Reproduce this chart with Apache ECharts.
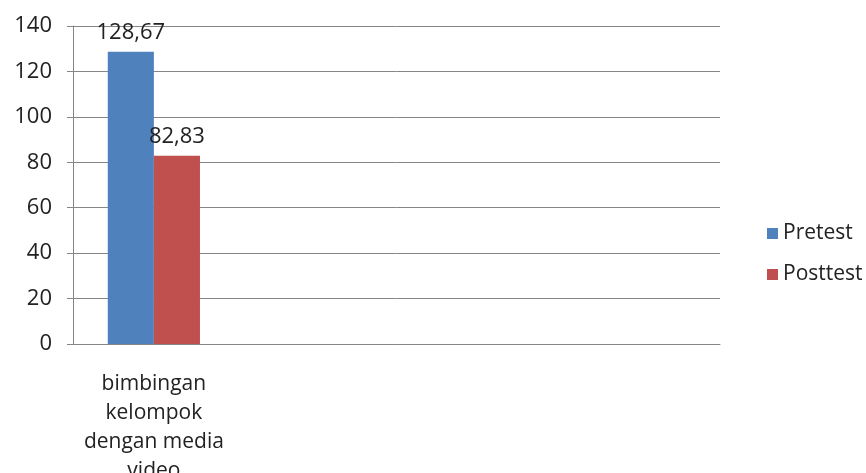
<!DOCTYPE html>
<html>
<head>
<meta charset="utf-8">
<script src="https://cdn.jsdelivr.net/npm/echarts@6/dist/echarts.min.js"></script>
<style>
  html, body { margin: 0; padding: 0; background: #fff; }
  #chart { width: 866px; height: 473px; }
</style>
</head>
<body>
<div id="chart"></div>
<script>
// data
var categories = ['bimbingan\nkelompok\ndengan media\nvideo', '', '', '']
var pretest = [128.67, null, null, null]
var posttest = [82.83, null, null, null]
var yTicks = [0, 20, 40, 60, 80, 100, 120, 140]

var font = 'Open Sans'
var chart = echarts.init(document.getElementById('chart'))

function fmt(p) {
    return String(p.value.toFixed(2)).replace('.', ',')
}

var option = {
    animation: false,
    textStyle: { fontFamily: font },
    grid: { left: 73, right: 146, top: 26, bottom: 129, outerBoundsMode: 'none' },
    legend: {
        orient: 'vertical',
        left: 762,
        top: 218,
        itemWidth: 11,
        itemHeight: 11,
        itemGap: 20,
        icon: 'rect',
        textStyle: { fontFamily: font, fontSize: 21, color: '#222' },
        data: ['Pretest', 'Posttest']
    },
    xAxis: {
        type: 'category',
        data: categories,
        axisLine: { lineStyle: { color: '#868686', width: 1 } },
        axisTick: { length: 6, lineStyle: { color: '#868686' } },
        axisLabel: {
            color: '#222', fontSize: 21, lineHeight: 29, margin: 26,
            interval: 0, align: 'center'
        }
    },
    yAxis: {
        type: 'value',
        min: yTicks[0],
        max: yTicks[yTicks.length - 1],
        interval: 20,
        axisLine: { show: true, lineStyle: { color: '#868686' } },
        axisTick: { show: true, length: 6, lineStyle: { color: '#868686' } },
        axisLabel: { color: '#222', fontSize: 22, margin: 21 },
        splitLine: { lineStyle: { color: '#868686', width: 1 } }
    },
    series: [
        {
            name: 'Pretest',
            type: 'bar',
            data: pretest,
            barCategoryGap: '43%',
            barGap: '0%',
            itemStyle: { color: '#4f81bd' },
            label: { show: true, position: 'top', formatter: fmt, color: '#222', fontSize: 22, distance: 8 }
        },
        {
            name: 'Posttest',
            type: 'bar',
            data: posttest,
            itemStyle: { color: '#c0504d' },
            label: { show: true, position: 'top', formatter: fmt, color: '#222', fontSize: 22, distance: 8 }
        }
    ]
}

chart.setOption(option)
</script>
</body>
</html>
